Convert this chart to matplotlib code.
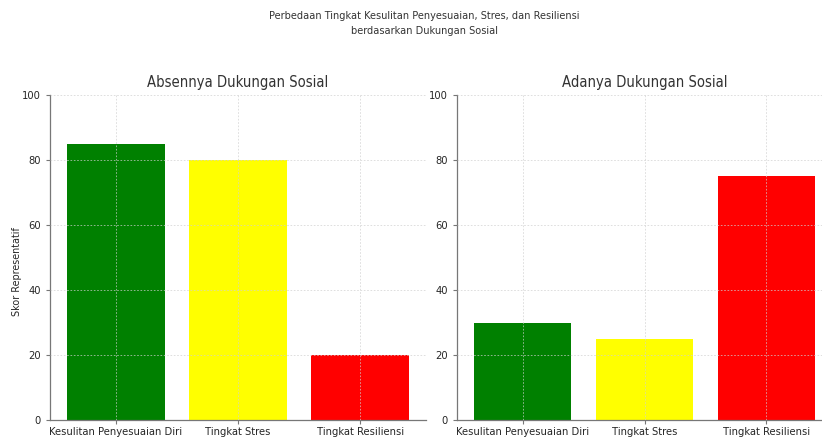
import matplotlib
matplotlib.use("Agg")
import matplotlib.pyplot as plt

# data
categories = ["Kesulitan Penyesuaian Diri", "Tingkat Stres", "Tingkat Resiliensi"]
absen_values = [85, 80, 20]
ada_values = [30, 25, 75]
bar_colors = ["green", "yellow", "red"]
panel_titles = ["Absennya Dukungan Sosial", "Adanya Dukungan Sosial"]
y_ticks = [0, 20, 40, 60, 80, 100]

plt.rcParams["font.family"] = "DejaVu Sans"
plt.rcParams["font.stretch"] = "condensed"

W, H = 822, 437
fig = plt.figure(figsize=(W / 100, H / 100), dpi=100)

fig.text(424 / W, 1 - 16 / H, "Perbedaan Tingkat Kesulitan Penyesuaian, Stres, dan Resiliensi",
         ha="center", va="center", fontsize=7.8, color="#333333")
fig.text(424 / W, 1 - 31 / H, "berdasarkan Dukungan Sosial",
         ha="center", va="center", fontsize=7.8, color="#333333")

boxes = [(50, 376), (457, 375)]
for (x0, w), title, vals in zip(boxes, panel_titles, [absen_values, ada_values]):
    ax = fig.add_axes([x0 / W, 17 / H, w / W, 325 / H])
    ax.bar(categories, vals, color=bar_colors, width=0.8)
    ax.set_ylim(0, 100)
    ax.set_yticks(y_ticks)
    ax.set_title(title, fontsize=10.6, color="#333333", pad=6)
    ax.grid(True, linestyle=(0, (2, 2)), linewidth=0.6, color="#d0d0d0", alpha=0.8)
    ax.set_axisbelow(False)
    for s in ("top", "right"):
        ax.spines[s].set_visible(False)
    for s in ("left", "bottom"):
        ax.spines[s].set_color("#777777")
        ax.spines[s].set_linewidth(0.9)
    ax.tick_params(labelsize=8, colors="#777777", labelcolor="#262626", length=3)
    ax.tick_params(axis="x", pad=2)

fig.text(17 / W, 1 - 272 / H, "Skor Representatif", rotation=90, ha="center", va="center",
         fontsize=6.9, fontstretch="normal", color="#262626")

fig.savefig("out.png", dpi=100)
